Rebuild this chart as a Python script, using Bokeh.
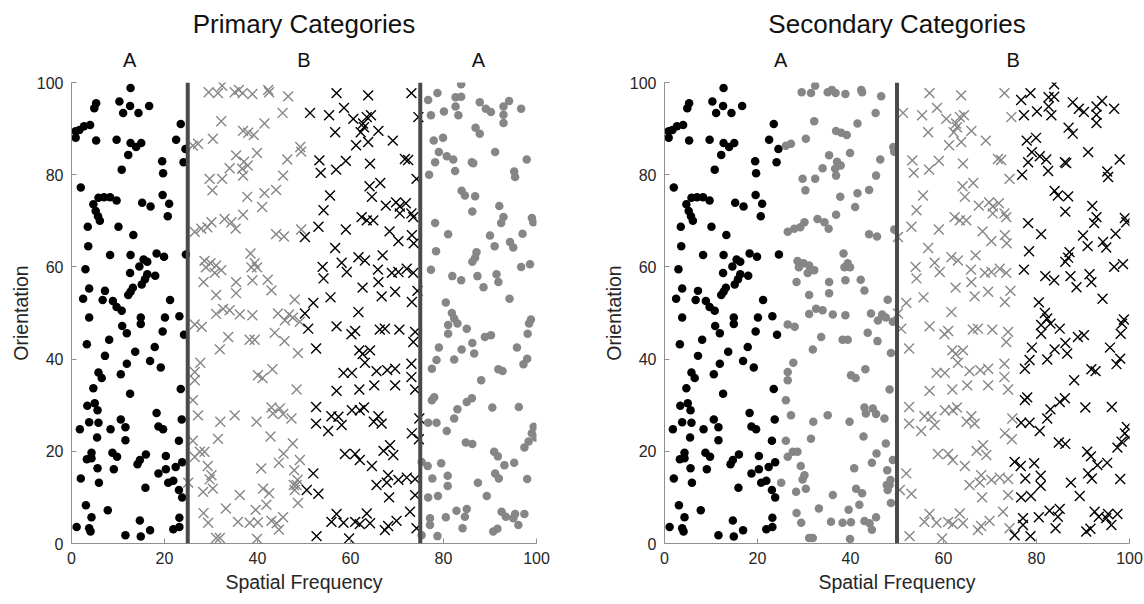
from bokeh.plotting import figure
from bokeh.layouts import row
from bokeh.models import LinearAxis, FixedTicker, Span
from bokeh.embed import file_html
from bokeh.resources import INLINE

# ---- stimulus samples: (spatial frequency, orientation), grouped by quarter of the SF axis ----
q1_x = [12.7, 10.3, 12.6, 16.7, 11.1, 14.4, 5.3, 4.9, 4.0, 2.7, 1.7, 0.9, 0.9, 5.3, 9.7, 12.7, 13.9, 15.0, 12.2,
        23.5, 22.5, 24.5, 24.1, 19.5, 19.7, 10.8, 2.0, 5.8, 7.0, 8.3, 9.7, 4.7, 5.2, 5.7, 6.1, 15.2, 17.0, 19.6,
        21.0, 20.7, 3.5, 10.1, 13.3, 3.6, 8.3, 12.7, 18.3, 19.9, 24.6, 15.5, 16.3, 14.6, 3.0, 12.6, 16.3, 18.0,
        15.8, 15.1, 13.2, 12.7, 12.2, 3.8, 7.2, 2.5, 6.7, 8.9, 9.7, 10.8, 21.2, 3.8, 14.9, 20.1, 23.2,
        14.9, 10.9, 11.9, 19.6, 24.2, 3.3, 8.1, 7.2, 13.7, 17.9, 16.9, 19.2, 11.9, 10.6, 5.8, 6.5, 4.7, 12.6,
        23.5, 3.4, 5.0, 5.6, 18.3, 10.6, 23.7, 3.8, 5.8, 1.8, 8.4, 11.6, 18.7, 19.7, 5.5, 11.6, 23.1, 4.3, 3.3,
        4.3, 8.8, 9.8, 16.0, 14.7, 14.2, 20.3, 23.8, 22.4, 5.6, 9.1, 20.3, 18.7, 2.0, 5.9, 21.9, 20.8, 15.9,
        23.1, 23.8, 3.1, 7.8, 4.3, 14.7, 23.2, 1.1, 3.8, 4.1, 11.6, 14.9, 16.9, 21.9, 23.2]
q1_y = [98.8, 95.9, 94.9, 94.9, 93.4, 93.4, 95.5, 94.4, 90.8, 90.5, 89.7, 89.4, 88.0, 87.4, 87.6, 86.9, 86.0, 86.9,
        84.3, 91.0, 87.6, 85.6, 82.7, 82.9, 80.3, 81.1, 77.2, 75.0, 75.1, 75.1, 74.4, 73.6, 72.1, 71.0, 70.0,
        73.9, 73.1, 75.6, 73.7, 71.0, 68.7, 68.7, 66.9, 64.5, 62.6, 62.6, 62.9, 62.2, 62.7, 61.6, 61.1, 60.1,
        59.5, 58.7, 58.4, 58.1, 57.3, 56.2, 55.5, 54.6, 53.9, 55.3, 54.8, 53.1, 52.8, 52.6, 51.3, 50.5, 52.8,
        49.0, 49.0, 49.0, 49.3,
        47.6, 47.2, 45.6, 46.0, 45.3, 43.2, 44.2, 40.7, 41.6, 42.6, 39.6, 38.2, 39.0, 36.7, 37.1, 35.9, 33.7,
        32.5, 33.5, 29.9, 30.4, 28.9, 28.3, 26.9, 26.9, 26.3, 26.2, 24.8, 24.8, 25.2, 25.4, 24.8, 23.0, 22.4,
        22.3, 19.7, 18.3, 18.5, 19.7, 18.8, 19.3, 18.1, 17.2, 19.0, 17.6, 16.6, 16.3, 16.1, 16.1, 15.2, 14.1,
        13.2, 13.6, 13.2, 12.1, 11.6, 10.0, 8.3, 7.2, 5.7, 5.0, 5.6, 3.6, 3.3, 2.6, 1.8, 1.5, 2.9, 3.1, 3.6]

q2_x = [29.5, 31.5, 32.4, 35.1, 36.0, 36.8, 38.9, 42.3, 42.5, 46.6, 45.4, 32.2, 41.5, 36.9, 38.0, 39.2, 30.4, 27.2,
        26.1, 49.2, 49.4, 35.4, 39.9, 46.4, 37.1, 37.9, 36.7, 34.0, 36.9, 45.5, 29.7, 32.4, 30.3, 41.5, 44.0,
        37.8, 41.0, 36.9, 32.9, 34.4, 35.3, 30.1, 29.2, 27.9, 26.5, 49.4, 44.0, 45.7, 38.5, 28.6, 29.9, 31.1,
        32.2, 30.8, 28.9, 39.4, 39.9, 38.7, 28.4, 35.4, 38.9, 42.2, 43.0, 31.1, 35.4, 48.0, 32.6, 34.0, 31.1,
        36.2, 38.9, 44.4, 46.8, 47.6,
        49.1, 45.9, 26.5, 28.0, 43.7, 45.8, 33.7, 38.3, 39.4, 31.9, 48.7, 27.7, 26.5, 26.5, 40.1, 41.1, 43.2,
        48.4, 26.1, 43.0, 44.8, 43.3, 45.5, 47.3, 27.2, 32.0, 35.1, 39.8, 42.8, 31.5, 26.1, 27.6, 28.6, 26.5,
        47.6, 45.6, 44.6, 49.1, 29.3, 30.1, 29.7, 40.8, 47.9, 48.6, 47.8, 48.4, 48.0, 28.3, 30.4, 25.1, 41.2,
        42.5, 36.2, 48.7, 41.9, 33.2, 39.6, 28.4, 29.4, 35.8, 38.3, 40.1, 43.0, 44.1, 45.5, 44.6, 31.1, 31.9,
        39.9]
q2_y = [97.9, 97.7, 99.3, 97.9, 98.4, 97.7, 97.5, 98.4, 97.9, 97.0, 93.4, 91.6, 91.1, 89.5, 89.1, 88.6, 87.8, 86.7,
        86.3, 86.0, 85.0, 84.2, 84.7, 83.3, 82.8, 82.0, 81.3, 81.4, 79.8, 79.8, 79.1, 79.1, 76.6, 76.0, 76.7,
        75.2, 73.0, 71.3, 70.4, 69.7, 68.3, 69.7, 68.6, 68.3, 67.6, 68.1, 67.1, 66.6, 62.9, 61.3, 60.8, 60.3,
        59.3, 58.7, 59.9, 60.8, 59.9, 59.9, 56.7, 56.7, 57.1, 57.2, 54.9, 53.9, 54.3, 52.9, 50.9, 50.6, 49.8,
        49.7, 49.5, 49.9, 49.7, 49.0,
        48.1, 48.4, 47.5, 47.0, 45.7, 43.9, 44.8, 44.2, 44.2, 42.1, 41.3, 39.2, 37.2, 35.4, 36.5, 35.9, 37.8,
        33.4, 31.1, 29.5, 29.3, 28.2, 28.1, 27.1, 27.8, 26.4, 27.8, 26.4, 23.2, 22.7, 22.3, 19.9, 19.9, 18.8,
        21.7, 19.5, 17.5, 18.1, 16.8, 14.8, 13.9, 16.3, 15.9, 13.8, 12.7, 12.7, 11.6, 11.2, 11.9, 13.2, 11.9,
        10.9, 10.5, 8.8, 8.4, 7.6, 7.3, 6.6, 4.5, 4.7, 4.5, 4.6, 4.9, 4.4, 5.7, 3.0, 1.2, 1.2, 1.0]

q3_x = [57.0, 63.8, 73.1, 51.3, 55.4, 58.6, 60.6, 62.7, 63.5, 64.4, 56.7, 62.2, 62.9, 66.0, 61.2, 63.8, 69.1, 74.6,
        53.3, 53.6, 56.9, 59.0, 64.2, 71.7, 72.4, 74.2, 64.1, 66.4, 55.6, 64.6, 67.6, 69.8, 70.6, 71.9, 70.6,
        73.1, 73.5, 54.2, 62.4, 63.5, 64.9, 53.1, 59.0, 68.4, 70.3, 73.2, 73.6, 50.2, 56.7, 61.7, 63.1, 66.9,
        54.0, 54.2, 58.1, 59.2, 65.9, 66.0, 68.9, 70.3, 72.1, 73.5, 62.6, 55.7, 66.7, 69.6, 74.4, 73.2, 52.0,
        50.2, 61.7,
        50.9, 57.0, 60.2, 61.0, 66.3, 67.4, 70.5, 73.9, 73.5, 52.6, 61.9, 62.6, 64.2, 63.1, 58.5, 60.3, 65.6,
        67.9, 69.6, 73.1, 73.1, 57.0, 61.9, 65.1, 69.6, 73.9, 52.6, 52.6, 55.9, 57.4, 58.1, 55.2, 60.3, 62.0,
        62.9, 66.0, 65.0, 66.7, 73.2, 74.8, 74.7, 58.8, 61.0, 62.0, 64.6, 67.1, 68.5, 69.2, 52.0, 50.6, 53.1,
        65.6, 67.8, 68.1, 70.3, 72.1, 73.9, 68.3, 73.9, 72.8, 55.9, 57.0, 58.5, 61.0, 62.0, 63.5, 64.2, 67.4,
        68.1, 69.9, 52.7, 59.7, 74.2]
q3_y = [97.7, 97.2, 97.7, 93.4, 92.9, 94.5, 92.1, 91.1, 92.5, 92.9, 89.2, 89.2, 90.3, 89.5, 86.4, 87.1, 87.4, 92.5,
        83.1, 80.4, 81.1, 83.0, 82.4, 83.4, 83.2, 79.1, 77.5, 78.2, 75.5, 75.2, 73.3, 74.0, 73.1, 73.8, 71.6,
        71.6, 70.8, 72.3, 70.8, 70.1, 70.1, 68.7, 68.1, 67.7, 65.6, 66.9, 65.1, 66.5, 64.1, 62.1, 61.4, 62.5,
        60.0, 57.5, 60.9, 58.9, 59.4, 56.7, 58.7, 58.9, 59.6, 58.7, 55.5, 53.4, 53.6, 54.6, 54.8, 52.4, 52.2,
        49.9, 50.2,
        46.6, 47.1, 45.4, 46.1, 46.4, 46.6, 46.4, 45.9, 43.7, 42.3, 41.9, 41.1, 41.9, 39.2, 37.0, 37.0, 37.4,
        37.6, 37.9, 39.0, 36.1, 33.1, 33.4, 34.3, 34.3, 33.4, 29.6, 26.0, 27.6, 27.5, 25.7, 24.4, 28.9, 28.9,
        29.5, 27.6, 26.4, 26.0, 23.9, 27.1, 22.6, 19.4, 19.4, 18.1, 16.8, 20.1, 21.3, 19.2, 15.2, 11.6, 10.8,
        12.7, 13.2, 14.8, 13.8, 14.3, 14.0, 10.0, 10.5, 6.9, 4.7, 6.4, 4.5, 4.7, 4.2, 6.5, 4.4, 2.9,
        3.8, 4.9, 1.6, 1.1, 3.3]

q4_x = [83.8, 78.7, 76.7, 82.6, 83.8, 82.6, 80.1, 77.3, 83.2, 87.8, 89.1, 90.2, 92.9, 94.1, 92.9, 92.9, 96.7, 86.9,
        87.8, 77.9, 79.9, 79.0, 80.7, 82.1, 78.2, 86.1, 86.4, 91.1, 97.9, 76.9, 82.5, 95.2, 95.4, 83.9, 84.6,
        86.8, 86.2, 92.0, 92.9, 92.4, 99.0, 99.3, 78.2, 81.0, 90.0, 97.0, 91.0, 94.3, 95.0, 78.4, 87.1, 86.8,
        86.2, 77.3, 81.9, 83.8, 87.3, 91.4, 91.8, 96.7, 98.6, 88.6, 80.5, 94.2, 81.8, 82.3, 98.8,
        98.4, 81.0, 83.0, 81.0, 85.0, 88.9, 90.2, 98.1, 79.0, 83.9, 86.2, 95.8, 78.5, 82.3, 86.6, 98.0, 97.2,
        77.5, 91.8, 92.7, 88.1, 77.5, 78.0, 85.0, 86.1, 83.0, 82.3, 90.5, 96.2, 76.7, 78.5, 80.7, 99.4, 99.0,
        99.8, 98.3, 97.4, 84.8, 86.2, 90.9, 91.7, 95.2, 93.1, 75.3, 76.6, 79.5, 91.1, 91.9, 77.6, 80.9, 80.9,
        87.4, 98.0, 89.3, 76.7, 78.8, 82.8, 85.0, 84.6, 92.5, 93.4, 95.4, 97.4, 95.0, 96.1, 77.1, 77.1, 80.5,
        84.1, 90.7, 91.6, 75.3, 78.7]
q4_y = [99.6, 97.7, 96.2, 96.8, 96.9, 94.8, 93.7, 92.9, 92.9, 95.7, 94.3, 93.6, 94.8, 96.0, 93.0, 91.2, 94.3, 90.2,
        88.9, 87.4, 88.0, 84.9, 84.0, 83.3, 82.7, 82.7, 82.5, 84.9, 83.3, 80.0, 80.8, 80.7, 79.5, 76.5, 75.5,
        75.3, 72.0, 73.2, 70.8, 69.5, 70.6, 69.7, 69.5, 67.1, 66.8, 67.2, 64.5, 65.4, 64.2, 63.4, 63.2, 62.0,
        61.1, 59.4, 58.0, 57.1, 58.0, 58.4, 56.7, 60.0, 60.6, 55.6, 52.3, 53.1, 50.0, 48.8, 48.6,
        47.7, 47.4, 47.7, 45.5, 46.6, 44.8, 45.2, 45.5, 42.5, 42.1, 43.5, 42.5, 39.8, 39.9, 41.2, 40.1, 38.9,
        37.9, 37.8, 37.4, 35.4, 31.1, 31.7, 30.7, 31.5, 29.1, 27.1, 29.5, 29.6, 26.2, 26.2, 24.4, 25.3, 23.9,
        23.0, 22.1, 20.8, 21.9, 21.6, 19.9, 18.9, 17.5, 17.0, 17.7, 16.8, 17.4, 15.2, 14.1, 14.1, 14.7, 12.5,
        13.2, 14.0, 10.3, 10.0, 10.3, 7.1, 7.5, 5.8, 6.9, 5.8, 6.4, 6.4, 5.5, 4.0, 5.5, 4.0, 5.7,
        3.3, 2.6, 3.2, 1.8, 1.6]

x_ticks = [0, 20, 40, 60, 80, 100]
y_ticks = [0, 20, 40, 60, 80, 100]

panel_titles = ["Primary Categories", "Secondary Categories"]
primary_bounds = [25, 75]
primary_label_pos = [12.5, 50, 87.5]
primary_labels = ["A", "B", "A"]
secondary_bounds = [50]
secondary_label_pos = [25, 75]
secondary_labels = ["A", "B"]

BLACK = "#000000"
GRAY = "#868686"
BOUND = "#4a4a4a"
TEXT = "#262626"
AXIS = "#8f8f8f"
FONT = "Liberation Sans"


def make_panel(title, bounds, label_pos, labels, styles, left_border, right_border):
    p = figure(frame_width=465, frame_height=461, x_range=(0, 100), y_range=(0, 100),
               output_backend="svg", toolbar_location=None,
               min_border_left=left_border, min_border_right=right_border,
               min_border_top=82, min_border_bottom=61,
               x_axis_label="Spatial Frequency", y_axis_label="Orientation")
    p.outline_line_color = None
    p.grid.visible = False
    p.background_fill_color = "white"
    p.border_fill_color = "white"

    for ax, ticks in ((p.xaxis[0], x_ticks), (p.yaxis[0], y_ticks)):
        ax.ticker = FixedTicker(ticks=ticks)
        ax.major_tick_in = 5
        ax.major_tick_out = 0
        ax.minor_tick_line_color = None
        ax.axis_line_color = AXIS
        ax.major_tick_line_color = AXIS
        ax.major_label_text_color = TEXT
        ax.major_label_text_font = FONT
        ax.major_label_text_font_size = "16px"
        ax.axis_label_text_font = FONT
        ax.axis_label_text_font_size = "19.5px"
        ax.axis_label_text_font_style = "normal"
        ax.axis_label_text_color = TEXT
    p.xaxis[0].major_label_standoff = 8
    p.xaxis[0].axis_label_standoff = 4
    p.yaxis[0].major_label_standoff = 8
    p.yaxis[0].axis_label_standoff = 2

    # category names above each region
    top = LinearAxis(ticker=FixedTicker(ticks=label_pos),
                     major_label_overrides={pos: lab for pos, lab in zip(label_pos, labels)},
                     axis_line_color=None, major_tick_line_color=None, minor_tick_line_color=None,
                     major_label_text_font=FONT, major_label_text_font_size="20px",
                     major_label_text_color="#111111", major_label_standoff=6)
    p.add_layout(top, "above")

    p.title.text = title
    p.title.align = "center"
    p.title.text_font = FONT
    p.title.text_font_size = "26px"
    p.title.text_font_style = "normal"
    p.title.text_color = "#111111"
    p.title.standoff = 13

    for xs, ys, (marker, color) in zip((q1_x, q2_x, q3_x, q4_x), (q1_y, q2_y, q3_y, q4_y), styles):
        if marker == "circle":
            p.scatter(xs, ys, marker="circle", size=8.5, fill_color=color, line_color=None)
        else:
            p.scatter(xs, ys, marker="x", size=14, line_color=color, line_width=1.4)

    for b in bounds:
        p.add_layout(Span(location=b, dimension="height", line_color=BOUND, line_width=4))
    return p


left = make_panel(panel_titles[0], primary_bounds, primary_label_pos, primary_labels,
                  [("circle", BLACK), ("x", GRAY), ("x", BLACK), ("circle", GRAY)], 71, 36)
right = make_panel(panel_titles[1], secondary_bounds, secondary_label_pos, secondary_labels,
                   [("circle", BLACK), ("circle", GRAY), ("x", GRAY), ("x", BLACK)], 92, 15)

layout = row(left, right)
open("out.html", "w").write(file_html(layout, INLINE))
